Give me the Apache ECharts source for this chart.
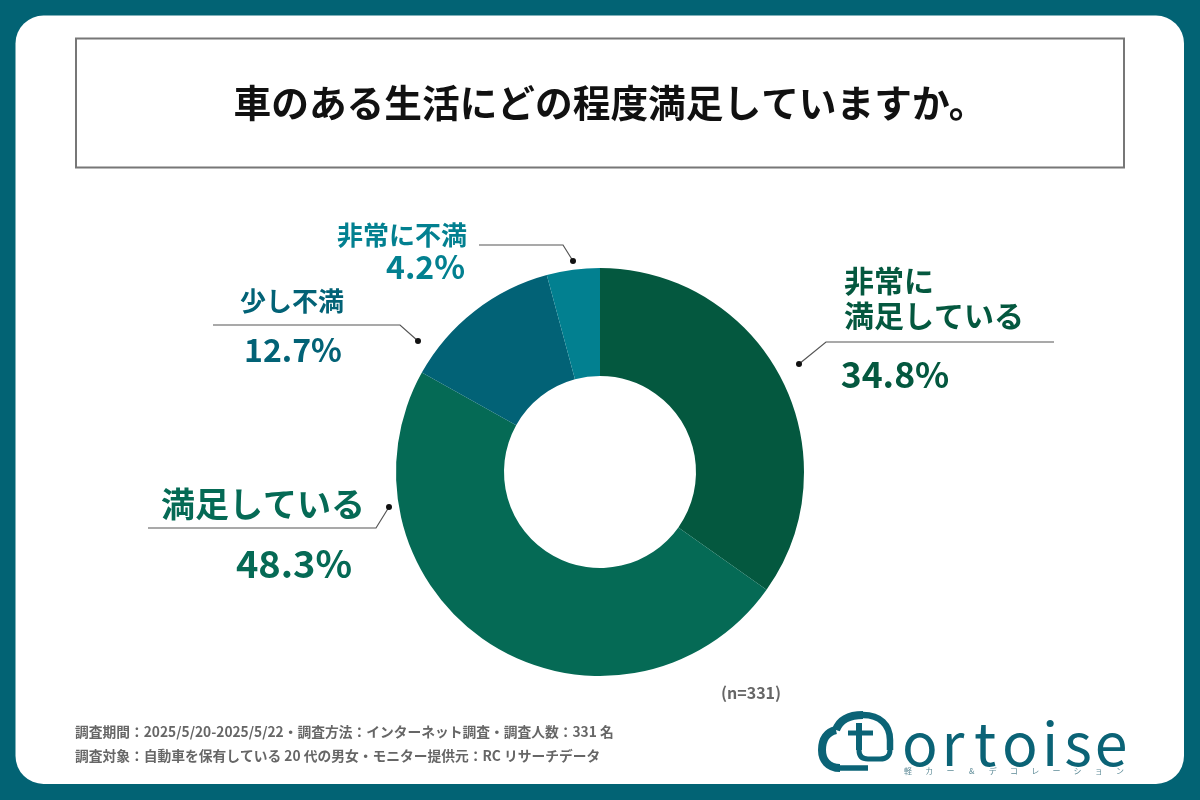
<!DOCTYPE html>
<html>
<head>
<meta charset="utf-8">
<style>
html, body { margin: 0; padding: 0; background: #026374; }
#chart { width: 1200px; height: 800px; }
</style>
<script src="https://cdn.jsdelivr.net/npm/echarts@6/dist/echarts.min.js"></script>
</head>
<body>
<div id="chart"></div>
<script>
// data
var titleText = '車のある生活にどの程度満足していますか。';
var categories = ['非常に\n満足している', '満足している', '少し不満', '非常に不満'];
var values = [34.8, 48.3, 12.7, 4.2];
var sampleText = '(n=331)';
var footerLines = [
    '調査期間：2025/5/20-2025/5/22・調査方法：インターネット調査・調査人数：331 名',
    '調査対象：自動車を保有している 20 代の男女・モニター提供元：RC リサーチデータ'
];
var logoChars = ['o', 'r', 't', 'o', 'i', 's', 'e'];
var logoSubChars = ['軽', 'カ', 'ー', '&', 'デ', 'コ', 'レ', 'ー', 'シ', 'ョ', 'ン'];

// styles and layout
var colors = ['#04583f', '#056a55', '#026276', '#028090'];
var FONT = '"Noto Sans CJK JP", "Noto Sans", sans-serif';
var labelStyle = [
    {x: 844, y: 298, size: 30, lineHeight: 35, align: 'left', pctX: 895, pctY: 375, pctSize: 35.5,
        line: [[799, 364], [826, 342], [1054, 342]]},
    {x: 263, y: 504, size: 34, lineHeight: 40, align: 'center', pctX: 294, pctY: 564, pctSize: 38,
        line: [[389, 507], [376, 528], [148, 528]]},
    {x: 292, y: 301, size: 26, lineHeight: 30, align: 'center', pctX: 293, pctY: 350, pctSize: 32,
        line: [[418, 341], [400, 325], [213, 325]]},
    {x: 467, y: 235, size: 26, lineHeight: 30, align: 'right', pctX: 465, pctY: 267, pctSize: 32,
        line: [[573, 261], [563, 245], [479, 245]]}
];
var logoX = [920, 953, 985, 1020, 1050, 1078, 1111];
var LOGO_COLOR = '#0b6376';

function textEl(text, x, y, size, color, weight, align, lineHeight) {
    return {
        type: 'text',
        x: x,
        y: y,
        style: {
            text: text,
            fill: color,
            font: weight + ' ' + size + 'px ' + FONT,
            align: align,
            verticalAlign: 'middle',
            lineHeight: lineHeight || size * 1.2
        }
    };
}

var graphics = [];
// white panel and title box
graphics.push({
    type: 'rect',
    shape: {x: 15.5, y: 15.5, width: 1168.5, height: 768.5, r: 28},
    style: {fill: '#ffffff'}
});
graphics.push({
    type: 'rect',
    shape: {x: 76, y: 38.5, width: 1048, height: 129},
    style: {fill: '#ffffff', stroke: '#777777', lineWidth: 2}
});
graphics.push(textEl(titleText, 610, 103, 37.7, '#111111', 'bold', 'center'));

// callouts
for (var i = 0; i < categories.length; i++) {
    var ls = labelStyle[i];
    graphics.push({
        type: 'polyline',
        shape: {points: ls.line},
        style: {fill: null, stroke: '#555555', lineWidth: 1.2}
    });
    graphics.push({
        type: 'circle',
        shape: {cx: ls.line[0][0], cy: ls.line[0][1], r: 3},
        style: {fill: '#111111'}
    });
    graphics.push(textEl(categories[i], ls.x, ls.y, ls.size, colors[i], 'bold', ls.align, ls.lineHeight));
    graphics.push(textEl(values[i].toFixed(1) + '%', ls.pctX, ls.pctY, ls.pctSize, colors[i], 'bold',
        ls.align === 'right' ? 'right' : 'center'));
}

// notes
graphics.push(textEl(sampleText, 751, 693, 16, '#666666', 'bold', 'center'));
graphics.push(textEl(footerLines[0], 75, 732, 13.75, '#666666', 'bold', 'left'));
graphics.push(textEl(footerLines[1], 75, 756, 13.75, '#666666', 'bold', 'left'));

// logo: cloud outline, then the letters
function logoCurve(x1, y1, cpx1, cpy1, cpx2, cpy2, x2, y2, w) {
    graphics.push({
        type: 'bezierCurve',
        shape: {x1: x1, y1: y1, cpx1: cpx1, cpy1: cpy1, cpx2: cpx2, cpy2: cpy2, x2: x2, y2: y2},
        style: {fill: null, stroke: LOGO_COLOR, lineWidth: w}
    });
}
function logoLine(points, w) {
    graphics.push({
        type: 'polyline',
        shape: {points: points},
        style: {fill: null, stroke: LOGO_COLOR, lineWidth: w}
    });
}
logoLine([[868, 768], [840, 768]], 5.5);
logoCurve(840, 768, 828, 768, 822, 760, 822, 750, 8);
logoCurve(822, 750, 822, 739, 827, 732, 836, 730, 8);
logoCurve(836, 730, 840, 719, 850, 715, 863, 715, 8);
logoCurve(863, 715, 880, 715, 890, 725, 890, 740, 6.5);
logoLine([[890, 740], [890, 750]], 6.5);
logoCurve(890, 750, 890, 756, 886, 759, 880, 759, 5);
logoLine([[880, 759], [868, 759]], 5);
logoCurve(868, 759, 862, 759, 859, 756, 859, 750, 5);
logoLine([[859, 750], [859, 723]], 6);
logoLine([[848, 733], [873, 733]], 5);
for (var c = 0; c < logoChars.length; c++) {
    graphics.push(textEl(logoChars[c], logoX[c], 744, 59, LOGO_COLOR, 'normal', 'center'));
}
for (var s = 0; s < logoSubChars.length; s++) {
    graphics.push(textEl(logoSubChars[s], 908 + s * 21.2, 771, 8, '#5f8c98', 'normal', 'center'));
}

var chart = echarts.init(document.getElementById('chart'), null, {renderer: 'canvas'});
chart.setOption({
    animation: false,
    backgroundColor: '#026374',
    graphic: {elements: graphics},
    series: [{
        type: 'pie',
        center: [600, 472],
        radius: [96, 204],
        startAngle: 90,
        clockwise: true,
        silent: true,
        label: {show: false},
        labelLine: {show: false},
        data: values.map(function (v, idx) {
            return {value: v, name: categories[idx], itemStyle: {color: colors[idx]}};
        })
    }]
});
</script>
</body>
</html>
